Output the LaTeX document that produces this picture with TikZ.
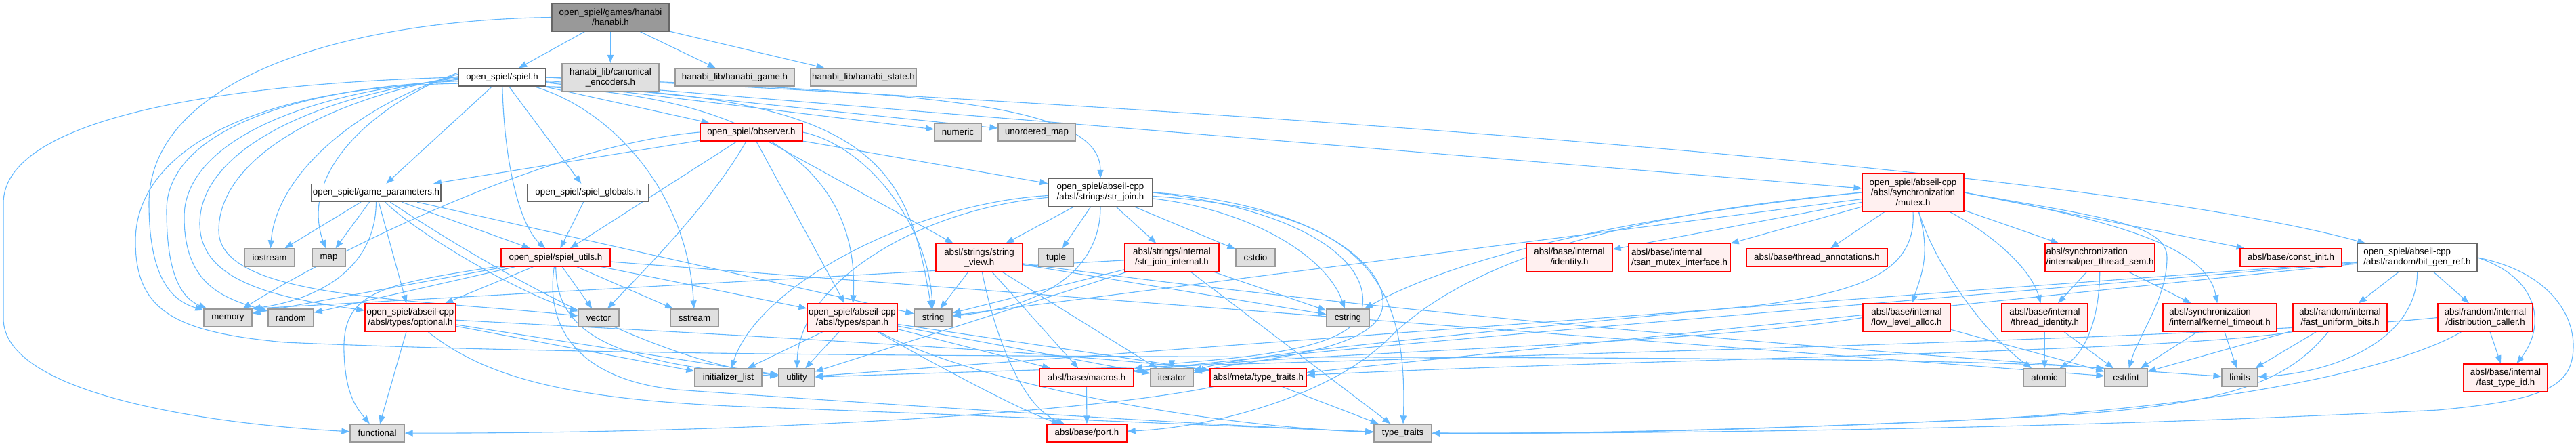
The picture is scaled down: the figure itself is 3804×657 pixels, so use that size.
\documentclass[tikz,border=0pt]{standalone}
\usepackage{fontspec}
\newfontfamily\dotfont{Liberation Sans}
\usetikzlibrary{arrows.meta,backgrounds}
\definecolor{edgeblue}{HTML}{63B8FF}
\definecolor{sysfill}{HTML}{E0E0E0}
\definecolor{sysline}{HTML}{999999}
\definecolor{redfill}{HTML}{FFF0F0}
\definecolor{docline}{HTML}{666666}
\definecolor{mainfill}{HTML}{999999}
\tikzset{
  hdr/.style={rectangle, line width=1.3pt, inner sep=0pt, minimum height=26pt,
    font=\dotfont\fontsize{13.3}{15}\selectfont, align=center},
  sysfile/.style={hdr, draw=sysline, fill=sysfill},
  redfile/.style={hdr, draw=red, fill=redfill},
  docfile/.style={hdr, draw=docline, fill=white},
  mainfile/.style={hdr, draw=docline, fill=mainfill},
  tall/.style={minimum height=41pt},
  dep/.style={draw=edgeblue, line width=1.1pt, -{Triangle[length=12pt,width=9pt]}},
}
\begin{document}
\begin{tikzpicture}[x=1pt,y=-1pt]
\useasboundingbox (0,0) rectangle (3804,657);

    %%%%%%%%%%%%%%%%%%
    %%%%% Rank 0 %%%%%
    %%%%%%%%%%%%%%%%%%
    \node[mainfile, tall, minimum width=173pt] (hanabi) at (901.5,25.5) {open\_spiel/games/hanabi\\/hanabi.h};

    %%%%%%%%%%%%%%%%%%
    %%%%% Rank 1 %%%%%
    %%%%%%%%%%%%%%%%%%
    \node[docfile, minimum width=129pt] (spiel) at (741.5,114) {open\_spiel/spiel.h};
    \node[sysfile, tall, minimum width=143pt] (canon) at (901.5,114) {hanabi\_lib/canonical\\\_encoders.h};
    \node[sysfile, minimum width=176pt] (hgame) at (1085,114) {hanabi\_lib/hanabi\_game.h};
    \node[sysfile, minimum width=156pt] (hstate) at (1275,114) {hanabi\_lib/hanabi\_state.h};

    %%%%%%%%%%%%%%%%%%
    %%%%% Rank 2 %%%%%
    %%%%%%%%%%%%%%%%%%
    \node[redfile, minimum width=151pt] (observer) at (1109.5,195) {open\_spiel/observer.h};
    \node[sysfile, minimum width=69pt] (numeric) at (1414.5,195) {numeric};
    \node[sysfile, minimum width=114pt] (umap) at (1531,195) {unordered\_map};

    %%%%%%%%%%%%%%%%%%
    %%%%% Rank 3 %%%%%
    %%%%%%%%%%%%%%%%%%
    \node[docfile, minimum width=191pt] (gameparams) at (555.5,284.5) {open\_spiel/game\_parameters.h};
    \node[docfile, minimum width=179pt] (globals) at (868.5,284.5) {open\_spiel/spiel\_globals.h};
    \node[docfile, tall, minimum width=154pt, align=left] (strjoin) at (1625,284) {open\_spiel/abseil-cpp\\/absl/strings/str\_join.h};
    \node[redfile, minimum height=56pt, minimum width=150pt] (mutex) at (2825,284) {open\_spiel/abseil-cpp\\/absl/synchronization\\/mutex.h};

    %%%%%%%%%%%%%%%%%%
    %%%%% Rank 4 %%%%%
    %%%%%%%%%%%%%%%%%%
    \node[sysfile, minimum width=74pt] (iostream) at (398,380) {iostream};
    \node[sysfile, minimum width=49pt] (map) at (485.5,380) {map};
    \node[redfile, minimum width=161pt] (spielutils) at (820.5,380) {open\_spiel/spiel\_utils.h};
    \node[redfile, tall, minimum width=128pt] (strview) at (1446,380) {absl/strings/string\\\_view.h};
    \node[sysfile, minimum width=51pt] (tuple) at (1559.5,380) {tuple};
    \node[redfile, tall, minimum width=139pt] (sjinternal) at (1730.5,380) {absl/strings/internal\\/str\_join\_internal.h};
    \node[sysfile, minimum width=58pt] (cstdio) at (1854,380) {cstdio};
    \node[redfile, tall, minimum width=127pt] (identity) at (2317.5,380) {absl/base/internal\\/identity.h};
    \node[redfile, tall, minimum width=150pt, align=left] (tsan) at (2480,380) {absl/base/internal\\/tsan\_mutex\_interface.h};
    \node[redfile, minimum width=208pt] (tannot) at (2683,380) {absl/base/thread\_annotations.h};
    \node[redfile, tall, minimum width=162pt, align=left] (pts) at (3101,380) {absl/synchronization\\/internal/per\_thread\_sem.h};
    \node[redfile, minimum width=150pt] (constinit) at (3383,380) {absl/base/const\_init.h};
    \node[docfile, tall, minimum width=177pt, align=left] (bitgen) at (3569.5,380) {open\_spiel/abseil-cpp\\/absl/random/bit\_gen\_ref.h};

    %%%%%%%%%%%%%%%%%%
    %%%%% Rank 5 %%%%%
    %%%%%%%%%%%%%%%%%%
    \node[sysfile, minimum width=71pt] (memory) at (336.5,469) {memory};
    \node[sysfile, minimum width=67pt] (random) at (429.5,469) {random};
    \node[redfile, tall, minimum width=134pt] (optional) at (606,468.5) {open\_spiel/abseil-cpp\\/absl/types/optional.h};
    \node[sysfile, minimum width=60pt] (vector) at (884,469) {vector};
    \node[sysfile, minimum width=71pt] (sstream) at (1025.5,469) {sstream};
    \node[redfile, tall, minimum width=133pt] (span) at (1258.5,468.5) {open\_spiel/abseil-cpp\\/absl/types/span.h};
    \node[sysfile, minimum width=56pt] (string) at (1378,469) {string};
    \node[sysfile, minimum width=63pt] (cstring) at (1990.5,469) {cstring};
    \node[redfile, tall, minimum width=129pt] (lla) at (2815.5,468.5) {absl/base/internal\\/low\_level\_alloc.h};
    \node[redfile, tall, minimum width=127pt] (tid) at (3019.5,468.5) {absl/base/internal\\/thread\_identity.h};
    \node[redfile, tall, minimum width=168pt, align=left] (kto) at (3278,468.5) {absl/synchronization\\/internal/kernel\_timeout.h};
    \node[redfile, tall, minimum width=139pt] (fub) at (3455.5,468.5) {absl/random/internal\\/fast\_uniform\_bits.h};
    \node[redfile, tall, minimum width=140pt] (dcaller) at (3670,468.5) {absl/random/internal\\/distribution\_caller.h};

    %%%%%%%%%%%%%%%%%%
    %%%%% Rank 6 %%%%%
    %%%%%%%%%%%%%%%%%%
    \node[sysfile, minimum width=99pt] (initlist) at (1075.5,557) {initializer\_list};
    \node[sysfile, minimum width=53pt] (utility) at (1176.5,557) {utility};
    \node[redfile, minimum width=139pt] (macros) at (1604.5,557) {absl/base/macros.h};
    \node[sysfile, minimum width=63pt] (iterator) at (1730.5,557) {iterator};
    \node[redfile, minimum width=142pt] (metatt) at (1858,557) {absl/meta/type\_traits.h};
    \node[sysfile, minimum width=62pt] (atomic) at (3019,557) {atomic};
    \node[sysfile, minimum width=63pt] (cstdint) at (3139.5,557) {cstdint};
    \node[sysfile, minimum width=53pt] (limits) at (3307.5,557) {limits};
    \node[redfile, tall, minimum width=124pt] (ftid) at (3700,557.5) {absl/base/internal\\/fast\_type\_id.h};

    %%%%%%%%%%%%%%%%%%
    %%%%% Rank 7 %%%%%
    %%%%%%%%%%%%%%%%%%
    \node[sysfile, minimum width=80pt] (functional) at (557,639) {functional};
    \node[redfile, minimum width=118pt] (port) at (1605,639) {absl/base/port.h};
    \node[sysfile, minimum width=85pt] (typetraits) at (2071.5,639) {type\_traits};

\begin{pgfonlayer}{background}
    % hanabi.h
    \draw[dep] (hanabi) -- (spiel);
    \draw[dep] (hanabi) -- (canon);
    \draw[dep] (hanabi) -- (hgame);
    \draw[dep] (hanabi) -- (hstate);
    \draw[dep] (hanabi.west) .. controls (500,30) and (220,120) .. (220,300) .. controls (220,420) and (260,445) .. (memory);

    % spiel.h, the curves round the left
    \draw[dep] (spiel.west) .. controls (350,122) and (5,170) .. (5,300) -- (5,470) .. controls (5,580) and (300,625) .. (functional);
    \draw[dep] (spiel.188) .. controls (380,128) and (200,220) .. (200,356) .. controls (200,460) and (260,490) .. (420,505) .. controls (1200,540) and (2700,515) .. (cstdint.north west);
    \draw[dep] (spiel.185) .. controls (420,130) and (246,200) .. (246,310) .. controls (246,410) and (270,440) .. (memory);
    \draw[dep] (spiel.183) .. controls (450,135) and (272,210) .. (272,320) .. controls (272,420) and (330,440) .. (random);
    \draw[dep] (spiel.181) .. controls (470,140) and (295,220) .. (295,330) .. controls (295,420) and (420,440) .. (optional);
    \draw[dep] (spiel.179) .. controls (490,145) and (323,230) .. (323,340) .. controls (323,440) and (600,440) .. (vector);
    \draw[dep] (spiel.176) .. controls (540,150) and (410,250) .. (iostream);
    \draw[dep] (spiel.174) .. controls (560,150) and (440,250) .. (map);
    % spiel.h, the rest
    \draw[dep] (spiel) -- (gameparams);
    \draw[dep] (spiel) .. controls (745,250) and (770,335) .. (spielutils);
    \draw[dep] (spiel) -- (globals);
    \draw[dep] (spiel) -- (observer);
    \draw[dep] (spiel) .. controls (900,160) and (1015,280) .. (sstream);
    \draw[dep] (spiel.-15) .. controls (1100,140) and (1270,240) .. (span);
    \draw[dep] (spiel.-12) .. controls (1300,140) and (1340,250) .. (string);
    \draw[dep] (spiel) -- (numeric);
    \draw[dep] (spiel) -- (umap);
    \draw[dep] (spiel.east) .. controls (1350,135) and (1625,150) .. (strjoin);
    \draw[dep] (spiel) -- (mutex);
    \draw[dep] (spiel.east) .. controls (1800,160) and (3100,250) .. (bitgen);

    % observer.h
    \draw[dep] (observer) -- (gameparams);
    \draw[dep] (observer.west) .. controls (800,215) and (480,380) .. (memory);
    \draw[dep] (observer) -- (spielutils);
    \draw[dep] (observer) .. controls (1050,300) and (950,400) .. (vector);
    \draw[dep] (observer) -- (span);
    \draw[dep] (observer) -- (strview);
    \draw[dep] (observer.east) .. controls (1280,215) and (1370,330) .. (string);
    \draw[dep] (observer) -- (strjoin);

    % game_parameters.h
    \draw[dep] (gameparams) -- (iostream);
    \draw[dep] (gameparams) -- (map);
    \draw[dep] (gameparams) .. controls (555,390) and (480,440) .. (memory.north east);
    \draw[dep] (gameparams) -- (optional);
    \draw[dep] (gameparams) .. controls (610,340) and (760,430) .. (vector);
    \draw[dep] (gameparams) .. controls (700,380) and (950,530) .. (utility);
    \draw[dep] (gameparams) -- (spielutils);
    \draw[dep] (gameparams) -- (string);

    % spiel_globals.h
    \draw[dep] (globals) -- (spielutils);

    % spiel_utils.h
    \draw[dep] (spielutils) -- (memory);
    \draw[dep] (spielutils) -- (random);
    \draw[dep] (spielutils) -- (optional);
    \draw[dep] (spielutils) -- (vector);
    \draw[dep] (spielutils) -- (sstream);
    \draw[dep] (spielutils) -- (span);
    \draw[dep] (spielutils) -- (cstdint);
    \draw[dep] (spielutils) .. controls (560,420) and (505,430) .. (508,520) .. controls (510,580) and (525,600) .. (functional);
    \draw[dep] (spielutils) .. controls (805,480) and (850,560) .. (1000,575) .. controls (1500,610) and (1850,630) .. (typetraits);
    \draw[dep] (spielutils) .. controls (822,480) and (880,535) .. (utility);

    % str_join.h
    \draw[dep] (strjoin) -- (strview);
    \draw[dep] (strjoin) -- (tuple);
    \draw[dep] (strjoin) -- (sjinternal);
    \draw[dep] (strjoin) -- (cstdio);
    \draw[dep] (strjoin.south) .. controls (1625,410) and (1520,455) .. (string);
    \draw[dep] (strjoin) .. controls (1350,300) and (1120,420) .. (initlist);
    \draw[dep] (strjoin) .. controls (1350,310) and (1180,420) .. (utility);
    \draw[dep] (strjoin) .. controls (1850,310) and (1960,380) .. (cstring);
    \draw[dep] (strjoin) .. controls (2000,310) and (2080,400) .. (typetraits);
    \draw[dep] (strjoin.east) .. controls (1950,300) and (2060,400) .. (2040,460) .. controls (2020,520) and (1850,530) .. (iterator);
    \draw[dep] (strjoin.east) .. controls (1930,310) and (2030,390) .. (2010,460) .. controls (1990,530) and (1750,530) .. (macros);

    % string_view.h
    \draw[dep] (strview) -- (string);
    \draw[dep] (strview) .. controls (1470,500) and (1510,600) .. (port);
    \draw[dep] (strview) -- (macros);
    \draw[dep] (strview) -- (iterator);
    \draw[dep] (strview) -- (cstring);
    \draw[dep] (strview) .. controls (2100,470) and (2900,530) .. (limits);

    % str_join_internal.h
    \draw[dep] (sjinternal) -- (iterator);
    \draw[dep] (sjinternal) -- (string);
    \draw[dep] (sjinternal) -- (memory.north east);
    \draw[dep] (sjinternal) -- (typetraits);
    \draw[dep] (sjinternal) -- (cstring);
    \draw[dep] (sjinternal) -- (utility);

    % macros.h and meta/type_traits.h
    \draw[dep] (macros) -- (port);
    \draw[dep] (metatt) .. controls (1600,610) and (1100,640) .. (functional);
    \draw[dep] (metatt) -- (typetraits);

    % span.h
    \draw[dep] (span) -- (initlist);
    \draw[dep] (span) -- (utility);
    \draw[dep] (span) -- (macros);
    \draw[dep] (span) -- (iterator);
    \draw[dep] (span) -- (metatt);
    \draw[dep] (span) .. controls (1420,560) and (1520,610) .. (port);
    \draw[dep] (span) .. controls (1450,570) and (1800,630) .. (typetraits);

    % optional.h
    \draw[dep] (optional) -- (functional);
    \draw[dep] (optional) -- (initlist);
    \draw[dep] (optional) -- (utility);
    \draw[dep] (optional) .. controls (1000,490) and (1600,520) .. (metatt);
    \draw[dep] (optional) .. controls (720,560) and (850,590) .. (1100,600) .. controls (1500,615) and (1900,632) .. (typetraits);

    % mutex.h
    \draw[dep] (mutex) -- (identity);
    \draw[dep] (mutex) -- (tsan);
    \draw[dep] (mutex) -- (tannot);
    \draw[dep] (mutex) .. controls (2850,370) and (2840,400) .. (lla);
    \draw[dep] (mutex) .. controls (2860,400) and (2940,500) .. (atomic);
    \draw[dep] (mutex) .. controls (2950,350) and (3000,400) .. (tid);
    \draw[dep] (mutex) -- (pts);
    \draw[dep] (mutex.east) .. controls (3150,330) and (3260,370) .. (kto);
    \draw[dep] (mutex.east) -- (constinit);
    \draw[dep] (mutex.east) .. controls (3100,320) and (3200,330) .. (3200,380) .. controls (3200,440) and (3160,490) .. (cstdint);
    \draw[dep] (mutex.west) .. controls (2400,320) and (2150,380) .. (cstring);
    \draw[dep] (mutex) -- (string);
    \draw[dep] (mutex.south) .. controls (2830,400) and (2750,430) .. (2600,450) .. controls (2200,490) and (1850,520) .. (iterator);
    \draw[dep] (mutex.west) .. controls (2350,320) and (2150,400) .. (2050,500) .. controls (1970,580) and (1800,630) .. (port);

    % the internals of mutex.h
    \draw[dep] (lla) -- (cstdint);
    \draw[dep] (lla.west) .. controls (2500,510) and (1900,520) .. (macros);
    \draw[dep] (tid) -- (atomic);
    \draw[dep] (tid) -- (cstdint);
    \draw[dep] (pts) -- (tid);
    \draw[dep] (pts) .. controls (3100,470) and (3080,520) .. (atomic);
    \draw[dep] (pts) -- (kto);
    \draw[dep] (kto) -- (cstdint);
    \draw[dep] (kto) -- (limits);

    % bit_gen_ref.h
    \draw[dep] (bitgen) -- (fub);
    \draw[dep] (bitgen) -- (dcaller);
    \draw[dep] (bitgen) .. controls (3570,500) and (3450,550) .. (limits);
    \draw[dep] (bitgen.east) .. controls (3750,410) and (3760,480) .. (ftid);
    \draw[dep] (bitgen.east) .. controls (3760,400) and (3800,460) .. (3800,510) .. controls (3800,570) and (3760,590) .. (3600,605) .. controls (3000,635) and (2400,640) .. (typetraits);
    \draw[dep] (bitgen) -- (utility);
    \draw[dep] (bitgen) .. controls (2500,470) and (1900,520) .. (macros);
    \draw[dep] (bitgen) -- (metatt);

    % fast_uniform_bits.h and distribution_caller.h
    \draw[dep] (fub) -- (limits);
    \draw[dep] (fub) -- (cstdint);
    \draw[dep] (fub.south west) .. controls (3200,520) and (2400,530) .. (metatt);
    \draw[dep] (fub) .. controls (3380,560) and (3300,600) .. (3000,615) .. controls (2600,635) and (2300,640) .. (typetraits);
    \draw[dep] (dcaller) -- (ftid);
    \draw[dep] (dcaller.west) .. controls (3300,500) and (2000,530) .. (utility);
    \draw[dep] (dcaller) .. controls (3550,540) and (3300,600) .. (2900,620) .. controls (2500,638) and (2300,640) .. (typetraits);
\end{pgfonlayer}

\end{tikzpicture}
\end{document}
